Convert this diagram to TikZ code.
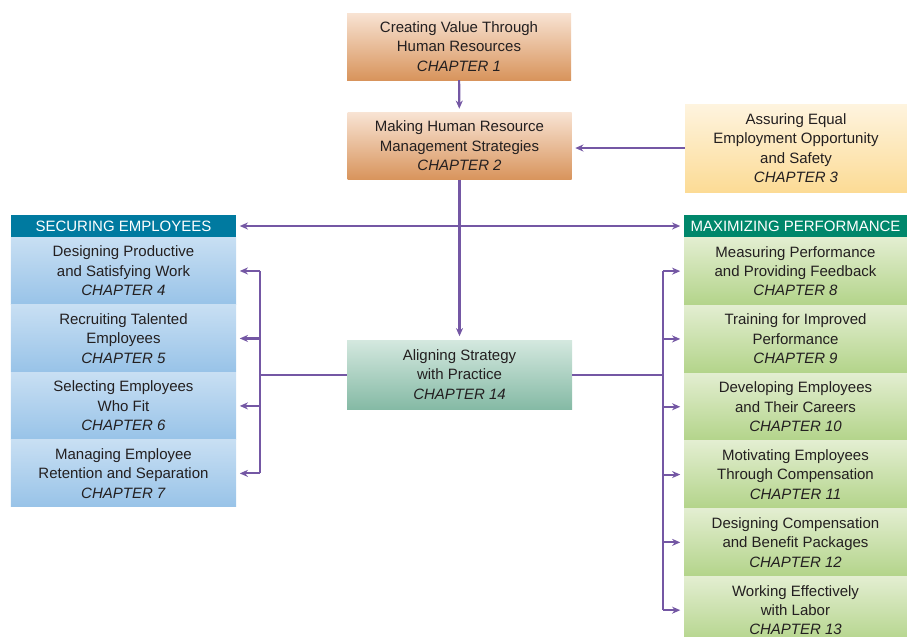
\documentclass[tikz,border=0pt]{standalone}
\usepackage{fontspec}
\setmainfont{Liberation Sans}
\usetikzlibrary{arrows.meta,positioning}

\definecolor{linkpurple}{HTML}{7457A4}
\definecolor{textgray}{HTML}{231F20}
\definecolor{orangetop}{HTML}{F8E3D3}
\definecolor{orangebot}{HTML}{D8945C}
\definecolor{yellowtop}{HTML}{FEF4DF}
\definecolor{yellowbot}{HTML}{FCDB95}
\definecolor{bluetop}{HTML}{C8DFF3}
\definecolor{bluebot}{HTML}{98C3E8}
\definecolor{greentop}{HTML}{E3EED1}
\definecolor{greenbot}{HTML}{B3D48A}
\definecolor{tealtop}{HTML}{D4E8DF}
\definecolor{tealbot}{HTML}{85BAA5}
\definecolor{securehead}{HTML}{007AA0}
\definecolor{maxhead}{HTML}{00876B}

\tikzset{
  chapbox/.style={rectangle, inner sep=0pt, minimum width=6.72cm, minimum height=2.01cm,
    align=center, text=textgray, font=\fontsize{12.8}{16.6}\selectfont},
  orangebox/.style={chapbox, top color=orangetop, bottom color=orangebot},
  yellowbox/.style={chapbox, top color=yellowtop, bottom color=yellowbot},
  bluebox/.style={chapbox, minimum width=6.75cm, top color=bluetop, bottom color=bluebot},
  greenbox/.style={chapbox, minimum width=6.69cm, minimum height=2.02cm, top color=greentop, bottom color=greenbot},
  tealbox/.style={chapbox, top color=tealtop, bottom color=tealbot},
  headbox/.style={rectangle, inner sep=0pt, minimum height=0.66cm, text=white,
    font=\fontsize{12.8}{16.6}\selectfont},
  linkline/.style={draw=linkpurple, line width=1.8pt},
  link/.style={linkline, -{Stealth[length=7pt,width=6pt]}, shorten >=3pt},
}

\begin{document}
\begin{tikzpicture}[x=0.03cm,y=-0.03cm]
  \useasboundingbox (0,0) rectangle (907,636);

  % Top chain
  \node[orangebox] (ch1) at (459,46.5) {Creating Value Through\\Human Resources\\\textit{CHAPTER 1}};
  \node[orangebox] (ch2) at (459.5,146) {Making Human Resource\\Management Strategies\\\textit{CHAPTER 2}};
  \node[yellowbox, minimum width=6.66cm, minimum height=2.64cm] (ch3) at (796,148)
    {Assuring Equal\\Employment Opportunity\\and Safety\\\textit{CHAPTER 3}};

  % Center box
  \node[tealbox, minimum width=6.75cm, minimum height=2.07cm] (ch14) at (459.5,374.5)
    {Aligning Strategy\\with Practice\\\textit{CHAPTER 14}};

  % Left column
  \node[headbox, fill=securehead, minimum width=6.75cm] (sechead) at (123.5,226) {SECURING EMPLOYEES};
  \node[bluebox, below=0pt of sechead] (ch4) {Designing Productive\\and Satisfying Work\\\textit{CHAPTER 4}};
  \node[bluebox, below=0pt of ch4] (ch5) {Recruiting Talented\\Employees\\\textit{CHAPTER 5}};
  \node[bluebox, below=0pt of ch5] (ch6) {Selecting Employees\\Who Fit\\\textit{CHAPTER 6}};
  \node[bluebox, below=0pt of ch6] (ch7) {Managing Employee\\Retention and Separation\\\textit{CHAPTER 7}};

  % Right column
  \node[headbox, fill=maxhead, minimum width=6.69cm] (maxhead) at (795.5,226) {MAXIMIZING PERFORMANCE};
  \node[greenbox, below=0pt of maxhead] (ch8) {Measuring Performance\\and Providing Feedback\\\textit{CHAPTER 8}};
  \node[greenbox, below=0pt of ch8] (ch9) {Training for Improved\\Performance\\\textit{CHAPTER 9}};
  \node[greenbox, below=0pt of ch9] (ch10) {Developing Employees\\and Their Careers\\\textit{CHAPTER 10}};
  \node[greenbox, below=0pt of ch10] (ch11) {Motivating Employees\\Through Compensation\\\textit{CHAPTER 11}};
  \node[greenbox, below=0pt of ch11] (ch12) {Designing Compensation\\and Benefit Packages\\\textit{CHAPTER 12}};
  \node[greenbox, below=0pt of ch12] (ch13) {Working Effectively\\with Labor\\\textit{CHAPTER 13}};

  % Arrows between top boxes
  \draw[link] (ch1) -- (ch2);
  \draw[link] (ch3.west) -- (ch3.west -| ch2.east);
  \draw[link] (ch2) -- (ch14);

  % Arrow to both headers
  \draw[link, {Stealth[length=7pt,width=6pt]}-{Stealth[length=7pt,width=6pt]}, shorten <=3pt]
    (sechead.east) -- (maxhead.west);

  % Left bracket
  \coordinate (lbar) at (260,375);
  \draw[linkline] (ch14.west |- lbar) -- (lbar);
  \draw[linkline] (lbar |- ch4.east) -- (lbar |- ch7.east);
  \foreach \c in {ch4,ch5,ch6,ch7}
    \draw[link] (lbar |- \c.east) -- (\c.east);

  % Right bracket
  \coordinate (rbar) at (663,375);
  \draw[linkline] (ch14.east |- rbar) -- (rbar);
  \draw[linkline] (rbar |- ch8.west) -- (rbar |- ch13.west);
  \foreach \c in {ch8,ch9,ch10,ch11,ch12,ch13}
    \draw[link] (rbar |- \c.west) -- (\c.west);

\end{tikzpicture}
\end{document}
